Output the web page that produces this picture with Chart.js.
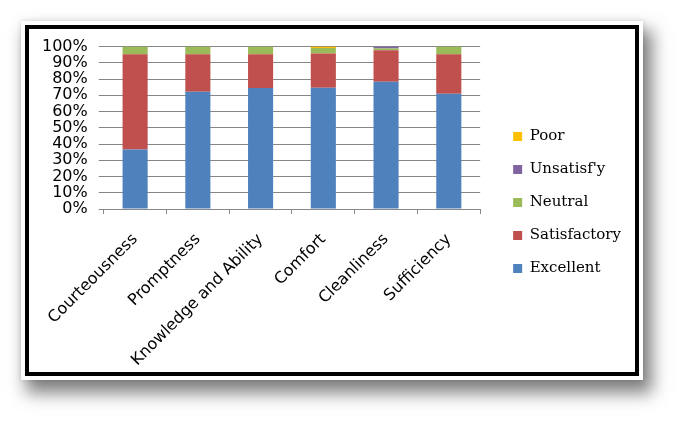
<!DOCTYPE html>
<html>
<head>
<meta charset="utf-8">
<script src="https://cdn.jsdelivr.net/npm/chart.js@4.4.0/dist/chart.umd.min.js"></script>
<style>
  html, body { margin: 0; padding: 0; background: #ffffff; width: 684px; height: 424px; overflow: hidden; }
  #mat { position: absolute; left: 21px; top: 21px; width: 622px; height: 359px; background: #fff;
         box-shadow: 7px 11px 16px 2px rgba(0,0,0,0.5), 0 0 5px rgba(0,0,0,0.12); }
  #frame { position: absolute; left: 25px; top: 25px; width: 606px; height: 343px; border: 4px solid #000; background: #fff; }
  #wrap { position: absolute; left: 0; top: -3px; width: 606px; height: 344px; }
</style>
</head>
<body>
<div id="mat"></div>
<div id="frame"><div id="wrap"><canvas id="c" width="606" height="344"></canvas></div></div>
<script>
const categories = ["Courteousness", "Promptness", "Knowledge and Ability", "Comfort", "Cleanliness", "Sufficiency"];
const excellent    = [36.7, 72.2, 74.5, 74.6, 78.3, 71.0];
const satisfactory = [58.6, 23.1, 20.8, 21.1, 19.5, 24.3];
const neutral      = [4.7, 4.7, 4.7, 3.5, 1.1, 4.7];
const unsatisfy    = [0, 0, 0, 0, 1.1, 0];
const poor         = [0, 0, 0, 0.8, 0, 0];
const yTicks = [0, 10, 20, 30, 40, 50, 60, 70, 80, 90, 100];

const axisFont = { family: "DejaVu Sans", size: 16 };
const grey = "#878787";

new Chart(document.getElementById("c"), {
  type: "bar",
  data: {
    labels: categories,
    datasets: [
      { label: "Excellent", data: excellent, backgroundColor: "#4F81BD" },
      { label: "Satisfactory", data: satisfactory, backgroundColor: "#C0504D" },
      { label: "Neutral", data: neutral, backgroundColor: "#9BBB59" },
      { label: "Unsatisf'y", data: unsatisfy, backgroundColor: "#8064A2" },
      { label: "Poor", data: poor, backgroundColor: "#FFC000" }
    ]
  },
  options: {
    responsive: false,
    animation: false,
    devicePixelRatio: 1,
    categoryPercentage: 1.0,
    barPercentage: 0.4,
    layout: { padding: { left: 2, top: 10, right: 4, bottom: 1 } },
    scales: {
      x: {
        stacked: true,
        offset: true,
        grid: { display: true, drawOnChartArea: false, offset: true, color: grey, tickLength: 5 },
        border: { display: true, color: grey },
        ticks: { color: "#000", font: axisFont, autoSkip: false, maxRotation: 45, minRotation: 45, padding: 16 },
        afterFit: (s) => { s.paddingLeft = 0; s.paddingRight = 0; s.height = 160; }
      },
      y: {
        stacked: true,
        min: 0, max: 100,
        afterBuildTicks: (s) => { s.ticks = yTicks.map(v => ({ value: v })); },
        grid: { color: grey, tickLength: 5 },
        border: { display: false },
        ticks: { color: "#000", font: axisFont, padding: 11, autoSkip: false, callback: (v) => v + "%" }
      },
      y2: {
        position: "right",
        display: true,
        grid: { display: false },
        border: { display: false },
        ticks: { display: false },
        afterFit: (s) => { s.width = 15; }
      }
    },
    plugins: {
      legend: {
        position: "right",
        reverse: true,
        maxWidth: 220,
        labels: {
          color: "#000",
          font: { family: "DejaVu Serif", size: 15 },
          boxWidth: 9, boxHeight: 9,
          padding: 18
        }
      },
      tooltip: { enabled: false }
    }
  }
});
</script>
</body>
</html>
